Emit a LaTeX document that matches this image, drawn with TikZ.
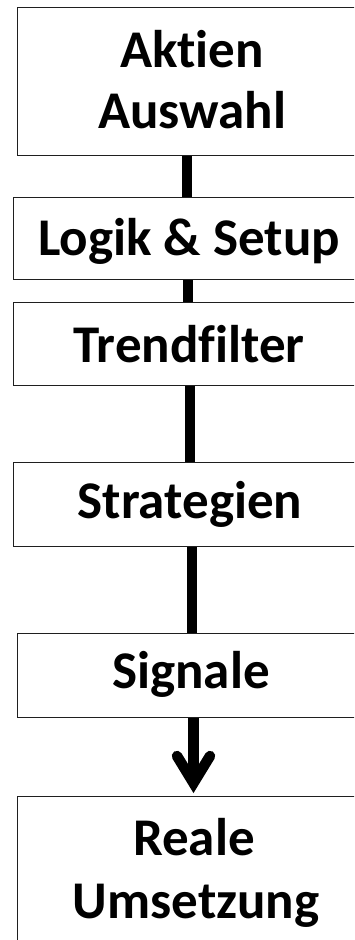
\documentclass[tikz,border=0pt]{standalone}
\usepackage{fontspec}
\setmainfont{Carlito}[Ligatures={NoCommon,NoRequired,NoContextual}]
\begin{document}
\begin{tikzpicture}[x=1pt,y=-1pt]
\tikzset{
  boxst/.style={draw=black!88, line width=1.4pt, fill=white, rectangle, anchor=north west, inner sep=0pt},
  lbl/.style={anchor=base, inner sep=0pt, font=\fontsize{53}{63}\selectfont\bfseries},
  conn/.style={line width=10.5pt, black}
}
\clip (0,0) rectangle (354,940);
\fill[white] (0,0) rectangle (354,940);
% boxes
\node[boxst, minimum width=348pt, minimum height=148pt] (b1) at (17,7) {};
\node[boxst, minimum width=352pt, minimum height=82pt] (b2) at (13,197) {};
\node[boxst, minimum width=352pt, minimum height=83pt] (b3) at (13,302) {};
\node[boxst, minimum width=352pt, minimum height=84pt] (b4) at (13,462) {};
\node[boxst, minimum width=348pt, minimum height=84pt] (b5) at (17,633) {};
\node[boxst, minimum width=352pt, minimum height=180pt] (b6) at (17,796) {};
% texts
\node[lbl] (t1a) at (192,67) {Aktien};
\node[lbl] (t1b) at (192,128) {Auswahl};
\node[lbl] (t2) at (189,255) {Logik \& Setup};
\node[lbl] (t3) at (189,362) {Trendfilter};
\node[lbl] (t4) at (190,518) {Strategien};
\node[lbl] (t5) at (191,688) {Signale};
\node[lbl] (t6a) at (194,855) {Reale};
\node[lbl] (t6b) at (196,918) {Umsetzung};
% connectors
\draw[conn] (187,0 |- b1.south) -- (187,0 |- b2.north);
\draw[conn] (188,0 |- b2.south) -- (188,0 |- b3.north);
\draw[conn] (190,0 |- b3.south) -- (190,0 |- b4.north);
\draw[conn] (192,0 |- b4.south) -- (192,0 |- b5.north);
\coordinate (tipc) at (193.5,783);
\coordinate (armL) at (177,756);
\coordinate (armR) at (210,756);
\draw[conn] (193.5,0 |- b5.south) -- (tipc);
\draw[conn, line cap=round, line join=miter] (armL) -- (tipc) -- (armR);
\end{tikzpicture}
\end{document}
